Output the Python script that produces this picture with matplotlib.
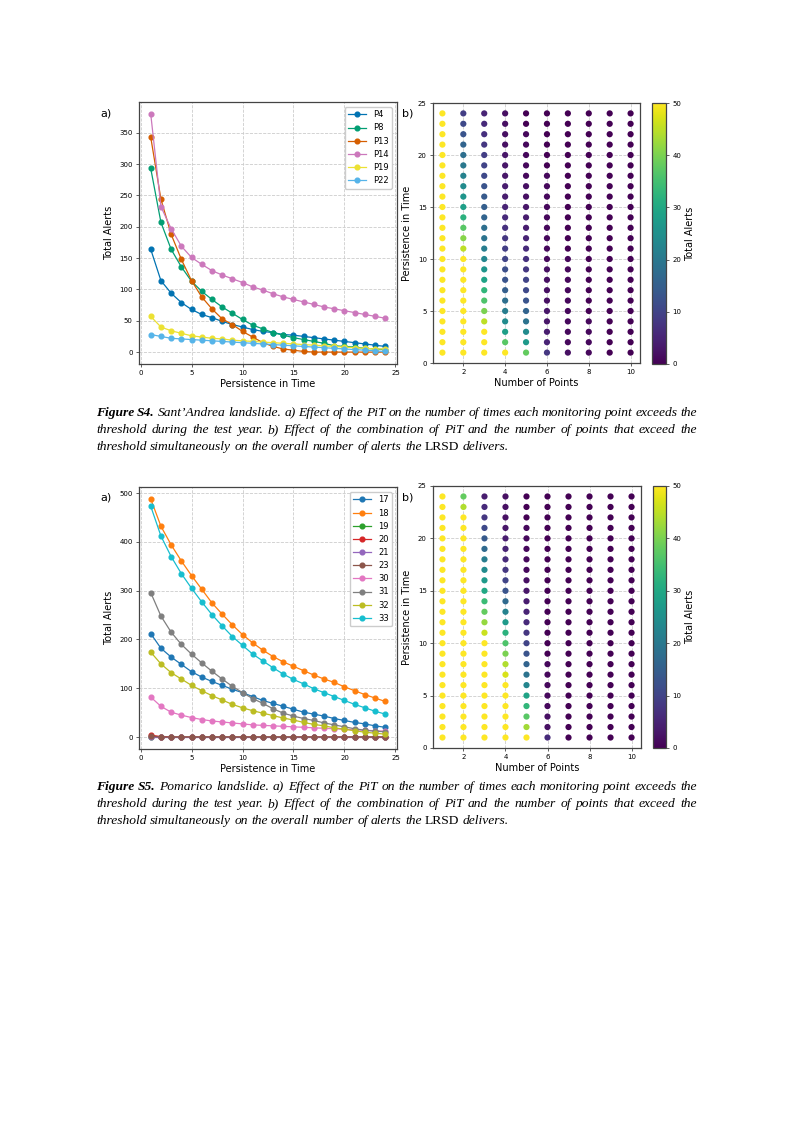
import numpy as np
import matplotlib
matplotlib.use("Agg")
import matplotlib.pyplot as plt

# persistence in time (days) used on both charts
pit = list(range(1, 25))
n_points = list(range(1, 11))

# ---- Sant'Andrea (figure S4) ----
s4_names = ["P4", "P8", "P13", "P14", "P19", "P22"]
s4_colors = ["#0173B2", "#029E73", "#D55E00", "#CC78BC", "#ECE133", "#56B4E9"]
s4_alerts = [
    [164, 114, 94, 79, 68, 60, 55, 49, 44, 40, 36, 33, 31, 28, 27, 25, 23, 21, 19, 17, 15, 13, 11, 9],
    [293, 207, 164, 136, 113, 97, 84, 72, 62, 52, 43, 37, 31, 27, 23, 20, 17, 14, 10, 9, 8, 6, 5, 4],
    [343, 244, 188, 148, 114, 88, 69, 53, 44, 33, 24, 15, 9, 5, 3, 1, 0, 0, 0, 0, 0, 0, 0, 0],
    [380, 232, 197, 169, 151, 140, 130, 123, 117, 111, 104, 99, 93, 88, 84, 80, 76, 72, 69, 66, 63, 60, 57, 54],
    [57, 40, 34, 30, 26, 24, 22, 21, 19, 18, 17, 16, 15, 14, 13, 12, 11, 10, 9, 8, 7, 6, 5, 5],
    [28, 25, 22, 21, 20, 19, 18, 17, 16, 15, 14, 13, 12, 11, 10, 9, 8, 7, 6, 5, 4, 3, 2, 1],
]
# total alerts, one list per number of points (rows = PiT 1..24)
s4_grid = [
    [50, 50, 50, 50, 50, 50, 50, 50, 50, 50, 50, 50, 50, 50, 50, 50, 50, 50, 50, 50, 50, 50, 50, 50],
    [50, 50, 50, 50, 50, 50, 50, 50, 50, 50, 45, 41, 37, 32, 28, 26, 24, 22, 20, 18, 16, 13, 11, 9],
    [50, 50, 50, 45, 40, 36, 33, 29, 26, 23, 21, 19, 18, 16, 15, 14, 13, 11, 10, 9, 8, 7, 6, 5],
    [50, 37, 28, 24, 21, 18, 15, 13, 12, 10, 9, 8, 7, 6, 5, 4, 4, 3, 3, 3, 2, 2, 2, 2],
    [38, 27, 24, 19, 16, 13, 11, 10, 8, 7, 6, 5, 4, 4, 3, 2, 2, 1, 1, 1, 1, 1, 0, 0],
    [8, 5, 4, 3, 3, 2, 2, 2, 2, 1, 1, 1, 1, 1, 1, 1, 1, 1, 0, 0, 0, 0, 0, 0],
    [2, 1, 1, 1, 1, 1, 1, 1, 1, 1, 0, 0, 0, 0, 0, 0, 0, 0, 0, 0, 0, 0, 0, 0],
    [1, 1, 1, 1, 0, 0, 0, 0, 0, 0, 0, 0, 0, 0, 0, 0, 0, 0, 0, 0, 0, 0, 0, 0],
    [0, 0, 0, 0, 0, 0, 0, 0, 0, 0, 0, 0, 0, 0, 0, 0, 0, 0, 0, 0, 0, 0, 0, 0],
    [0, 0, 0, 0, 0, 0, 0, 0, 0, 0, 0, 0, 0, 0, 0, 0, 0, 0, 0, 0, 0, 0, 0, 0],
]

# ---- Pomarico (figure S5) ----
s5_names = ["17", "18", "19", "20", "21", "23", "30", "31", "32", "33"]
s5_colors = ["#1f77b4", "#ff7f0e", "#2ca02c", "#d62728", "#9467bd",
             "#8c564b", "#e377c2", "#7f7f7f", "#bcbd22", "#17becf"]
s5_alerts = [
    [212, 182, 164, 149, 134, 123, 114, 106, 98, 91, 83, 75, 69, 63, 57, 51, 47, 43, 38, 34, 30, 27, 23, 20],
    [488, 432, 394, 361, 331, 303, 275, 252, 230, 210, 193, 178, 165, 154, 145, 136, 127, 119, 112, 103, 95, 87, 80, 73],
    [1, 0, 0, 0, 0, 0, 0, 0, 0, 0, 0, 0, 0, 0, 0, 0, 0, 0, 0, 0, 0, 0, 0, 0],
    [4, 1, 0, 0, 0, 0, 0, 0, 0, 0, 0, 0, 0, 0, 0, 0, 0, 0, 0, 0, 0, 0, 0, 0],
    [0, 0, 0, 0, 0, 0, 0, 0, 0, 0, 0, 0, 0, 0, 0, 0, 0, 0, 0, 0, 0, 0, 0, 0],
    [2, 0, 0, 0, 0, 0, 0, 0, 0, 0, 0, 0, 0, 0, 0, 0, 0, 0, 0, 0, 0, 0, 0, 0],
    [82, 63, 51, 45, 40, 36, 33, 31, 29, 27, 25, 24, 23, 22, 21, 20, 19, 18, 17, 16, 15, 14, 13, 12],
    [296, 248, 215, 190, 170, 152, 135, 119, 104, 91, 79, 69, 58, 49, 43, 38, 34, 29, 25, 21, 17, 14, 12, 11],
    [174, 150, 132, 119, 106, 95, 85, 76, 67, 60, 54, 49, 44, 39, 35, 30, 26, 23, 19, 16, 13, 10, 8, 6],
    [473, 412, 370, 335, 305, 277, 251, 228, 206, 188, 170, 156, 142, 129, 118, 109, 99, 91, 83, 75, 67, 60, 53, 47],
]
s5_grid = [
    [50, 50, 50, 50, 50, 50, 50, 50, 50, 50, 50, 50, 50, 50, 50, 50, 50, 50, 50, 50, 50, 50, 50, 50],
    [50, 50, 50, 50, 50, 50, 50, 50, 50, 50, 50, 50, 50, 50, 50, 50, 50, 50, 50, 50, 50, 50, 44, 38],
    [50, 50, 50, 50, 50, 50, 50, 50, 50, 50, 46, 42, 38, 34, 30, 27, 24, 21, 17, 14, 11, 8, 6, 4],
    [50, 50, 50, 50, 50, 50, 47, 44, 40, 36, 32, 27, 22, 17, 13, 10, 8, 6, 5, 4, 3, 2, 2, 2],
    [50, 43, 37, 33, 29, 23, 19, 16, 13, 10, 8, 6, 5, 4, 3, 2, 1, 1, 1, 1, 1, 0, 0, 0],
    [6, 2, 2, 1, 1, 1, 1, 1, 0, 0, 0, 0, 0, 0, 0, 0, 0, 0, 0, 0, 0, 0, 0, 0],
    [0, 0, 0, 0, 0, 0, 0, 0, 0, 0, 0, 0, 0, 0, 0, 0, 0, 0, 0, 0, 0, 0, 0, 0],
    [0, 0, 0, 0, 0, 0, 0, 0, 0, 0, 0, 0, 0, 0, 0, 0, 0, 0, 0, 0, 0, 0, 0, 0],
    [0, 0, 0, 0, 0, 0, 0, 0, 0, 0, 0, 0, 0, 0, 0, 0, 0, 0, 0, 0, 0, 0, 0, 0],
    [0, 0, 0, 0, 0, 0, 0, 0, 0, 0, 0, 0, 0, 0, 0, 0, 0, 0, 0, 0, 0, 0, 0, 0],
]

# caption text, split as in the page: (text, style) pieces per line
s4_caption = [
    [("Figure S4.", "bi"), ("Sant\u2019Andrea landslide. a) Effect of the PiT on the number of times each monitoring point exceeds the", "i")],
    [("threshold during the test year. b) Effect of the combination of PiT and the number of points that exceed the", "i")],
    [("threshold simultaneously on the overall number of alerts the", "i"), ("LRSD", "n"), ("delivers.", "i")],
]
s5_caption = [
    [("Figure S5.", "bi"), ("Pomarico landslide. a) Effect of the PiT on the number of times each monitoring point exceeds the", "i")],
    [("threshold during the test year. b) Effect of the combination of PiT and the number of points that exceed the", "i")],
    [("threshold simultaneously on the overall number of alerts the", "i"), ("LRSD", "n"), ("delivers.", "i")],
]

W, H = 793, 1122
fig = plt.figure(figsize=(W / 100, H / 100), dpi=100)
spine_col = "#444444"


def box(left, top, right, bottom):
    # pixel box on the page -> figure fraction
    return [left / W, 1 - bottom / H, (right - left) / W, (bottom - top) / H]


def style_axes(ax):
    ax.grid(True, linestyle="--", color="#cccccc", linewidth=0.6)
    ax.set_axisbelow(True)
    ax.tick_params(labelsize=5, length=2.5, width=0.6, color=spine_col, pad=2)
    for s in ax.spines.values():
        s.set_color(spine_col)
        s.set_linewidth(0.9)


def line_panel(rect, names, colors, alerts):
    ax = fig.add_axes(rect)
    for name, col, vals in zip(names, colors, alerts):
        ax.plot(pit, vals, "-o", color=col, label=name, markersize=3.4, linewidth=0.9)
    style_axes(ax)
    ax.set_xlabel("Persistence in Time", fontsize=7, labelpad=2)
    ax.set_ylabel("Total Alerts", fontsize=7, labelpad=4)
    ax.legend(fontsize=6, loc="upper right", framealpha=1, edgecolor="#cccccc",
              borderaxespad=0.6, handlelength=2.2)
    return ax


def scatter_panel(rect, cbar_rect, grid):
    ax = fig.add_axes(rect)
    xs, ys, cs = [], [], []
    for i, col in enumerate(grid):
        for j, v in enumerate(col):
            xs.append(n_points[i])
            ys.append(pit[j])
            cs.append(v)
    sc = ax.scatter(xs, ys, c=cs, cmap="viridis", vmin=0, vmax=50, s=20, linewidths=0, zorder=3)
    style_axes(ax)
    ax.set_ylim(0, 25)
    ax.set_xticks([2, 4, 6, 8, 10])
    ax.set_xlabel("Number of Points", fontsize=7, labelpad=2)
    ax.set_ylabel("Persistence in Time", fontsize=7, labelpad=4)
    cax = fig.add_axes(cbar_rect)
    cb = fig.colorbar(sc, cax=cax)
    cb.set_ticks([0, 10, 20, 30, 40, 50])
    cb.ax.tick_params(labelsize=5, length=2.5, width=0.6, color=spine_col, pad=2)
    cb.outline.set_edgecolor(spine_col)
    cb.outline.set_linewidth(0.9)
    cb.set_label("Total Alerts", fontsize=7, labelpad=3)
    return ax


styles = {"bi": dict(style="italic", weight="bold"), "i": dict(style="italic"), "n": {}}


def draw_caption(lines, top, left=96, right=697, size=9.7, step=17):
    renderer = fig.canvas.get_renderer()
    for k, line in enumerate(lines):
        words = []
        for text, st in line:
            for w in text.split():
                words.append((w, st))
        items = []
        for w, st in words:
            t = fig.text(0, 0, w, fontsize=size, family="Liberation Serif", va="baseline", **styles[st])
            items.append(t)
        widths = [t.get_window_extent(renderer).width for t in items]
        if k < len(lines) - 1:
            gap = (right - left - sum(widths)) / (len(items) - 1)
        else:
            gap = 0.25 * size * 100 / 72
        x = left
        y = top + k * step
        for t, wd in zip(items, widths):
            t.set_position((x / W, 1 - y / H))
            x += wd + gap


# figure S4
line_panel(box(139, 102, 397, 364), s4_names, s4_colors, s4_alerts)
scatter_panel(box(433, 103, 640, 363), box(652, 103, 666, 364), s4_grid)
fig.text(100 / W, 1 - 116 / H, "a)", fontsize=8)
fig.text(402 / W, 1 - 116 / H, "b)", fontsize=8)
draw_caption(s4_caption, 416)

# figure S5
line_panel(box(139, 487, 397, 749), s5_names, s5_colors, s5_alerts)
scatter_panel(box(433, 486, 641, 748), box(653, 486, 666, 748), s5_grid)
fig.text(100 / W, 1 - 501 / H, "a)", fontsize=8)
fig.text(402 / W, 1 - 501 / H, "b)", fontsize=8)
draw_caption(s5_caption, 790)

fig.savefig("out.png", dpi=100)
